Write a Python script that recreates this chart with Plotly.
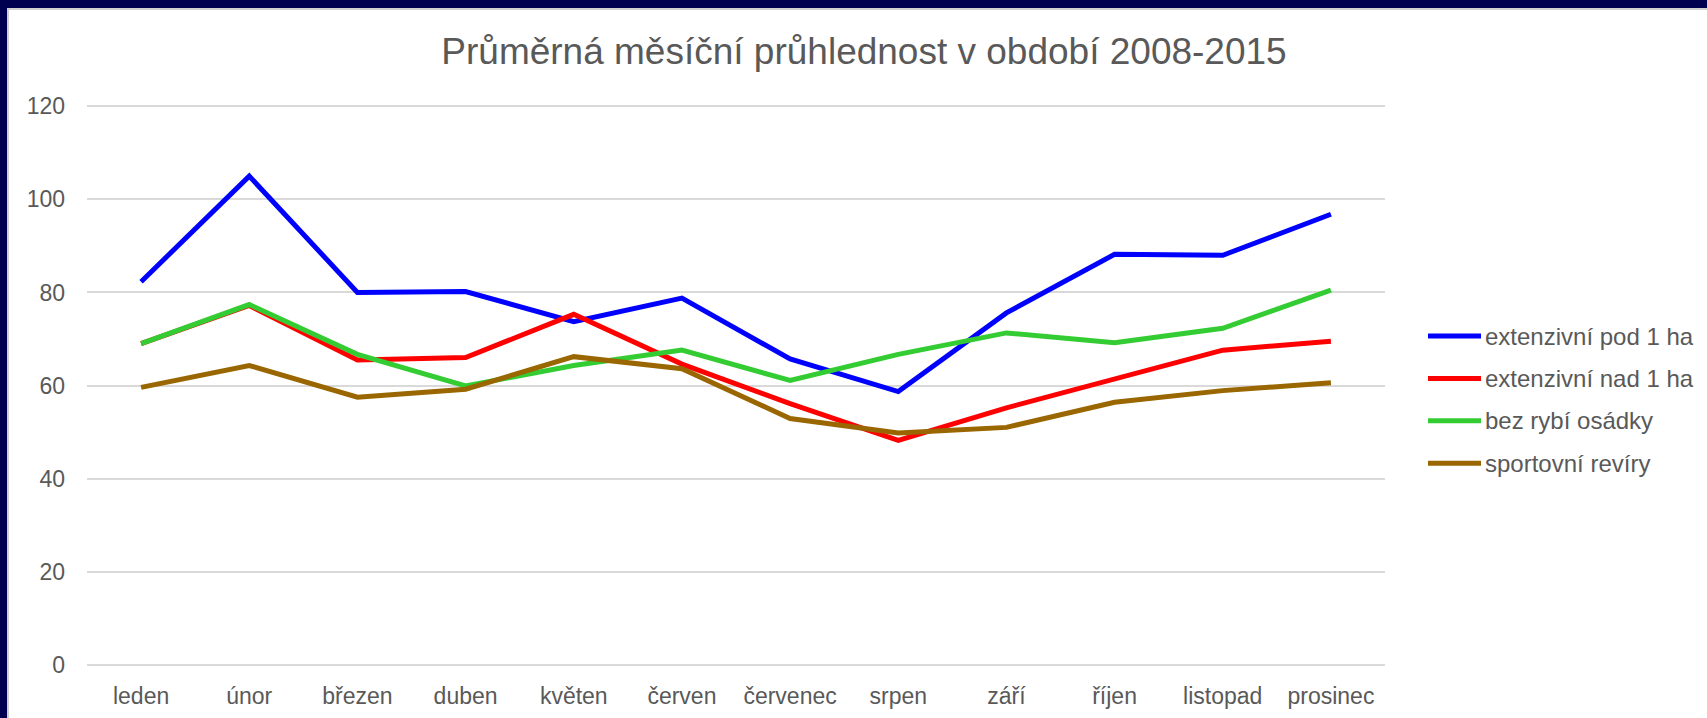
import plotly.graph_objects as go

months = ["leden", "únor", "březen", "duben", "květen", "červen",
          "červenec", "srpen", "září", "říjen", "listopad", "prosinec"]

ext_pod_1ha = [82.3, 105.0, 80.0, 80.2, 73.7, 78.8, 65.7, 58.7, 75.6, 88.2, 88.0, 96.8]
ext_nad_1ha = [69.0, 77.2, 65.5, 66.0, 75.3, 64.6, 56.1, 48.2, 55.2, 61.3, 67.6, 69.5]
bez_osadky = [69.0, 77.4, 66.7, 59.9, 64.3, 67.6, 61.1, 66.7, 71.3, 69.2, 72.3, 80.5]
sportovni = [59.6, 64.3, 57.5, 59.2, 66.2, 63.6, 52.9, 49.8, 51.0, 56.4, 58.9, 60.6]

series_names = ["extenzivní pod 1 ha", "extenzivní nad 1 ha", "bez rybí osádky", "sportovní revíry"]
series_values = [ext_pod_1ha, ext_nad_1ha, bez_osadky, sportovni]
series_colors = ["#0000FF", "#FF0000", "#33CC33", "#996600"]

y_ticks = [0, 20, 40, 60, 80, 100, 120]

W, H = 1707, 718
L, R, T, B = 87, 322, 104, 51
pw, ph = W - L - R, H - T - B

def px_x(px):
    return (px - L) / pw

def px_y(py):
    return (H - B - py) / ph

FONT = "Liberation Sans, Arial, sans-serif"
TXT = "#595959"

fig = go.Figure()
for name, vals, col in zip(series_names, series_values, series_colors):
    fig.add_trace(go.Scatter(x=months, y=vals, name=name, mode="lines",
                             line=dict(color=col, width=5), showlegend=False))

shapes = []
annotations = []
# custom legend
leg_y0 = 336
leg_dy = 42.4
for i, (name, col) in enumerate(zip(series_names, series_colors)):
    yy = px_y(leg_y0 + i * leg_dy)
    shapes.append(dict(type="line", xref="paper", yref="paper",
                       x0=px_x(1428), x1=px_x(1481), y0=yy, y1=yy,
                       line=dict(color=col, width=5)))
    annotations.append(dict(xref="paper", yref="paper", x=px_x(1483), y=yy,
                            text=name, showarrow=False, xanchor="left", yanchor="middle",
                            font=dict(family=FONT, size=24, color=TXT)))

# frame border (navy top and left edges)
NAVY = "#000050"
shapes.append(dict(type="rect", xref="paper", yref="paper", layer="above",
                   x0=px_x(0), x1=px_x(W + 2), y0=px_y(0), y1=px_y(8),
                   fillcolor=NAVY, line=dict(width=0)))
shapes.append(dict(type="rect", xref="paper", yref="paper", layer="above",
                   x0=px_x(0), x1=px_x(7), y0=px_y(0), y1=px_y(H + 2),
                   fillcolor=NAVY, line=dict(width=0)))
shapes.append(dict(type="line", xref="paper", yref="paper",
                   x0=px_x(7), x1=px_x(W + 2), y0=px_y(9), y1=px_y(9),
                   line=dict(color="#d0d0d0", width=2)))
shapes.append(dict(type="line", xref="paper", yref="paper",
                   x0=px_x(8), x1=px_x(8), y0=px_y(9), y1=px_y(H + 2),
                   line=dict(color="#d0d0d0", width=2)))

fig.update_layout(
    width=W, height=H,
    margin=dict(l=L, r=R, t=T, b=B, autoexpand=False),
    paper_bgcolor="white", plot_bgcolor="white",
    title=dict(text="Průměrná měsíční průhlednost v období 2008-2015",
               x=864 / W, xanchor="center", xref="container",
               y=1 - 51 / H, yanchor="middle", yref="container",
               font=dict(family=FONT, size=37, color=TXT)),
    font=dict(family=FONT, size=23, color=TXT),
    xaxis=dict(range=[-0.5, 11.5], showgrid=False, showline=False, zeroline=False,
               ticks="", automargin=False,
               tickfont=dict(family=FONT, size=23, color=TXT),
               ticklabelstandoff=13, fixedrange=True),
    yaxis=dict(range=[-0.5, 120.5], tickvals=y_ticks, showgrid=True,
               gridcolor="#d9d9d9", gridwidth=1.5, zeroline=False, showline=False,
               ticks="", automargin=False,
               tickfont=dict(family=FONT, size=23, color=TXT),
               ticklabelstandoff=21, fixedrange=True),
    shapes=shapes,
    annotations=annotations,
    showlegend=False,
)

fig.write_html("out.html", config={"displayModeBar": False},
               post_script="document.body.style.margin='0';document.body.style.overflow='hidden';")
